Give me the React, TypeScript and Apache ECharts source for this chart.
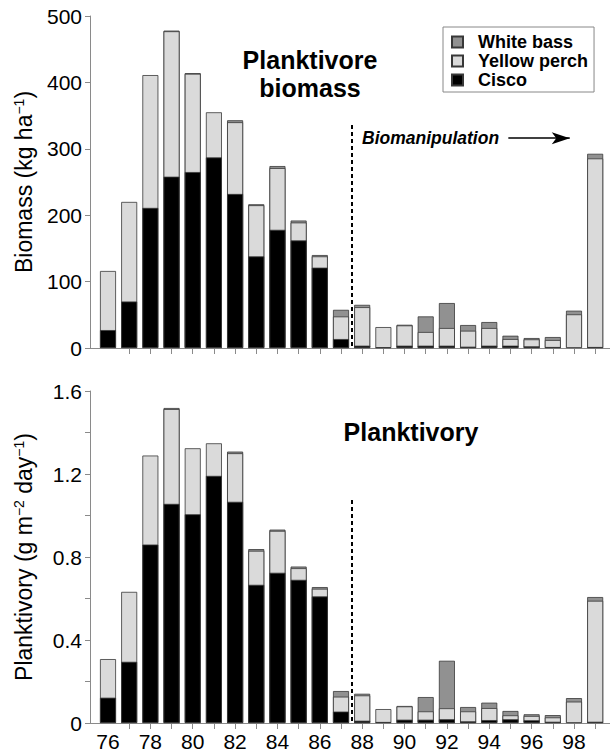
import React, { useEffect, useRef } from "react";
import * as echarts from "echarts";

const years = [76, 77, 78, 79, 80, 81, 82, 83, 84, 85, 86, 87, 88, 89, 90, 91, 92, 93, 94, 95, 96, 97, 98, 99];
const labelYears = [76, 78, 80, 82, 84, 86, 88, 90, 92, 94, 96, 98];
const tickYears = [77, 78, 79, 80, 81, 82, 83, 84, 85, 86, 87, 88, 89, 90, 91, 92, 93, 94, 95, 96, 97, 98, 99];

const biomassCisco = [27, 70, 211, 258, 265, 287, 232, 138, 178, 162, 121, 13.5, 3.5, 1, 3.5, 3.5, 3.5, 2, 3.5, 3.5, 2.5, 1.5, 0, 1.5];
const biomassPerch = [89, 150, 200, 219, 148, 68, 108, 77, 93, 27, 17, 34, 58, 30.5, 30.5, 20.6, 26.6, 24, 26.6, 10, 10.5, 10.5, 50.7, 284];
const biomassBass = [0, 0, 0, 1, 1, 0, 3, 1.5, 3, 3, 2, 10, 3.5, 0, 1, 23.5, 37.6, 8.6, 9, 5, 2, 4.5, 5.5, 7];

const planktCisco = [0.122, 0.295, 0.86, 1.056, 1.006, 1.191, 1.066, 0.666, 0.724, 0.69, 0.61, 0.055, 0.011, 0.005, 0.016, 0.016, 0.018, 0.008, 0.014, 0.018, 0.013, 0.006, 0, 0.006];
const planktPerch = [0.186, 0.337, 0.429, 0.457, 0.318, 0.157, 0.234, 0.164, 0.202, 0.056, 0.037, 0.072, 0.122, 0.062, 0.064, 0.04, 0.053, 0.048, 0.058, 0.019, 0.021, 0.021, 0.103, 0.583];
const planktBass = [0, 0, 0, 0.005, 0, 0, 0.008, 0.008, 0.006, 0.008, 0.008, 0.027, 0.008, 0, 0.002, 0.069, 0.229, 0.021, 0.026, 0.021, 0.008, 0.011, 0.017, 0.018];

const seriesNames = ["White bass", "Yellow perch", "Cisco"];
const colors: Record<string, string> = { "White bass": "#919191", "Yellow perch": "#dadada", Cisco: "#000000" };

const FONT = "Liberation Sans";
const AXIS_GRAY = "#8a8a8a";

// stacked tops: each segment drawn from zero to its cumulative top, overlapping
function cumulative(...parts: number[][]) {
  return years.map((_, i) => parts.reduce((s, p) => s + p[i], 0));
}
function pairs(vals: number[], own: number[]) {
  return years.map((y, i) => [y, own[i] === 0 ? null : vals[i]]);
}

export default function App() {
  const ref = useRef<HTMLDivElement>(null);
  useEffect(() => {
    if (!ref.current) return;
    const chart = echarts.init(ref.current, null, { renderer: "svg" });

    const xAxisBase = (gridIndex: number, showLabels: boolean) => ({
      type: "value",
      gridIndex,
      min: 75.15,
      max: 99.7,
      splitLine: { show: false },
      axisLine: { show: true, onZero: false, lineStyle: { color: AXIS_GRAY, width: 1 } },
      axisTick: { show: true, customValues: tickYears, length: 6, lineStyle: { color: AXIS_GRAY } },
      axisLabel: {
        show: showLabels,
        customValues: labelYears,
        formatter: (v: number) => String(v),
        fontSize: 21,
        fontFamily: FONT,
        color: "#000",
        margin: 8,
      },
    });

    const mkSeries = (name: string, tops: number[], own: number[], idx: number, extra: any = {}) => ({
      name,
      type: "bar",
      xAxisIndex: idx,
      yAxisIndex: idx,
      barWidth: 16,
      barGap: "-100%",
      data: pairs(tops, own),
      itemStyle: { color: colors[name], borderColor: "#383838", borderWidth: 0.8 },
      emphasis: { disabled: true },
      ...extra,
    });

    const dashed = { color: "#000", width: 2, type: [4, 3] };

    const yName = (name: string) => ({
      name,
      nameLocation: "middle",
      nameGap: 55,
      nameTextStyle: {
        fontSize: 23,
        color: "#000",
        fontFamily: FONT,
        rich: { s: { fontSize: 14, verticalAlign: "top", color: "#000", fontFamily: FONT, padding: [0, 0, 6, 0] } },
      },
    });

    const option: any = {
      animation: false,
      backgroundColor: "#fff",
      textStyle: { fontFamily: FONT },
      grid: [
        { left: 90, top: 16, right: 0, height: 332 },
        { left: 90, top: 391, right: 0, height: 332 },
      ],
      legend: {
        data: seriesNames,
        orient: "vertical",
        left: 443,
        top: 27,
        width: 150,
        padding: [6, 6, 3, 8],
        itemWidth: 11,
        itemHeight: 11,
        itemGap: 1,
        borderColor: "#888",
        borderWidth: 1,
        icon: "rect",
        selectedMode: false,
        textStyle: { fontSize: 18, fontWeight: "bold", color: "#000", fontFamily: FONT, padding: [0, 0, 0, 10] },
      },
      xAxis: [xAxisBase(0, false), xAxisBase(1, true)],
      yAxis: [
        {
          type: "value",
          gridIndex: 0,
          min: 0,
          max: 500,
          interval: 100,
          splitLine: { show: false },
          axisLine: { show: true, lineStyle: { color: AXIS_GRAY } },
          axisTick: { show: true, length: 5, lineStyle: { color: AXIS_GRAY } },
          axisLabel: { fontSize: 21, color: "#000", fontFamily: FONT, margin: 8 },
          ...yName("Biomass (kg ha{s|−1})"),
        },
        {
          type: "value",
          gridIndex: 1,
          min: 0,
          max: 1.6,
          interval: 0.2,
          splitLine: { show: false },
          axisLine: { show: true, lineStyle: { color: AXIS_GRAY } },
          axisTick: { show: true, length: 5, lineStyle: { color: AXIS_GRAY } },
          axisLabel: {
            fontSize: 21,
            color: "#000",
            fontFamily: FONT,
            margin: 8,
            formatter: (v: number) => (Math.round(v * 10) % 4 === 0 ? String(Math.round(v * 10) / 10) : ""),
          },
          ...yName("Planktivory (g m{s|−2} day{s|−1})"),
        },
      ],
      series: [
        mkSeries("White bass", cumulative(biomassCisco, biomassPerch, biomassBass), biomassBass, 0, {
          markLine: {
            silent: true,
            symbol: "none",
            label: { show: false },
            lineStyle: dashed,
            data: [
              [{ coord: [87.5, 336], lineStyle: dashed }, { coord: [87.5, 0] }],
              [
                { coord: [94.9, 316], symbol: "none", lineStyle: { color: "#000", width: 1.5, type: "solid" } },
                { coord: [97.8, 316], symbol: "arrow", symbolSize: [9, 18] },
              ],
            ],
          },
        }),
        mkSeries("Yellow perch", cumulative(biomassCisco, biomassPerch), biomassPerch, 0),
        mkSeries("Cisco", biomassCisco, biomassCisco, 0),
        mkSeries("White bass", cumulative(planktCisco, planktPerch, planktBass), planktBass, 1, {
          markLine: {
            silent: true,
            symbol: "none",
            label: { show: false },
            lineStyle: dashed,
            data: [[{ coord: [87.5, 1.075] }, { coord: [87.5, 0] }]],
          },
        }),
        mkSeries("Yellow perch", cumulative(planktCisco, planktPerch), planktPerch, 1),
        mkSeries("Cisco", planktCisco, planktCisco, 1),
      ],
      graphic: [
        {
          type: "text",
          x: 310,
          y: 74,
          style: {
            text: "Planktivore\nbiomass",
            textAlign: "center",
            textVerticalAlign: "middle",
            font: `bold 25px "${FONT}"`,
            lineHeight: 28,
            fill: "#000",
          },
        },
        {
          type: "text",
          x: 411,
          y: 432,
          style: {
            text: "Planktivory",
            textAlign: "center",
            textVerticalAlign: "middle",
            font: `bold 25px "${FONT}"`,
            fill: "#000",
          },
        },
        {
          type: "text",
          x: 362,
          y: 138,
          style: {
            text: "Biomanipulation",
            textAlign: "left",
            textVerticalAlign: "middle",
            font: `italic bold 17.5px "${FONT}"`,
            fill: "#000",
          },
        },
      ],
    };

    chart.setOption(option);
    return () => chart.dispose();
  }, []);

  return (
    <div
      ref={ref}
      style={{ position: "fixed", left: 0, top: 0, width: 610, height: 754, background: "#fff" }}
    />
  );
}
